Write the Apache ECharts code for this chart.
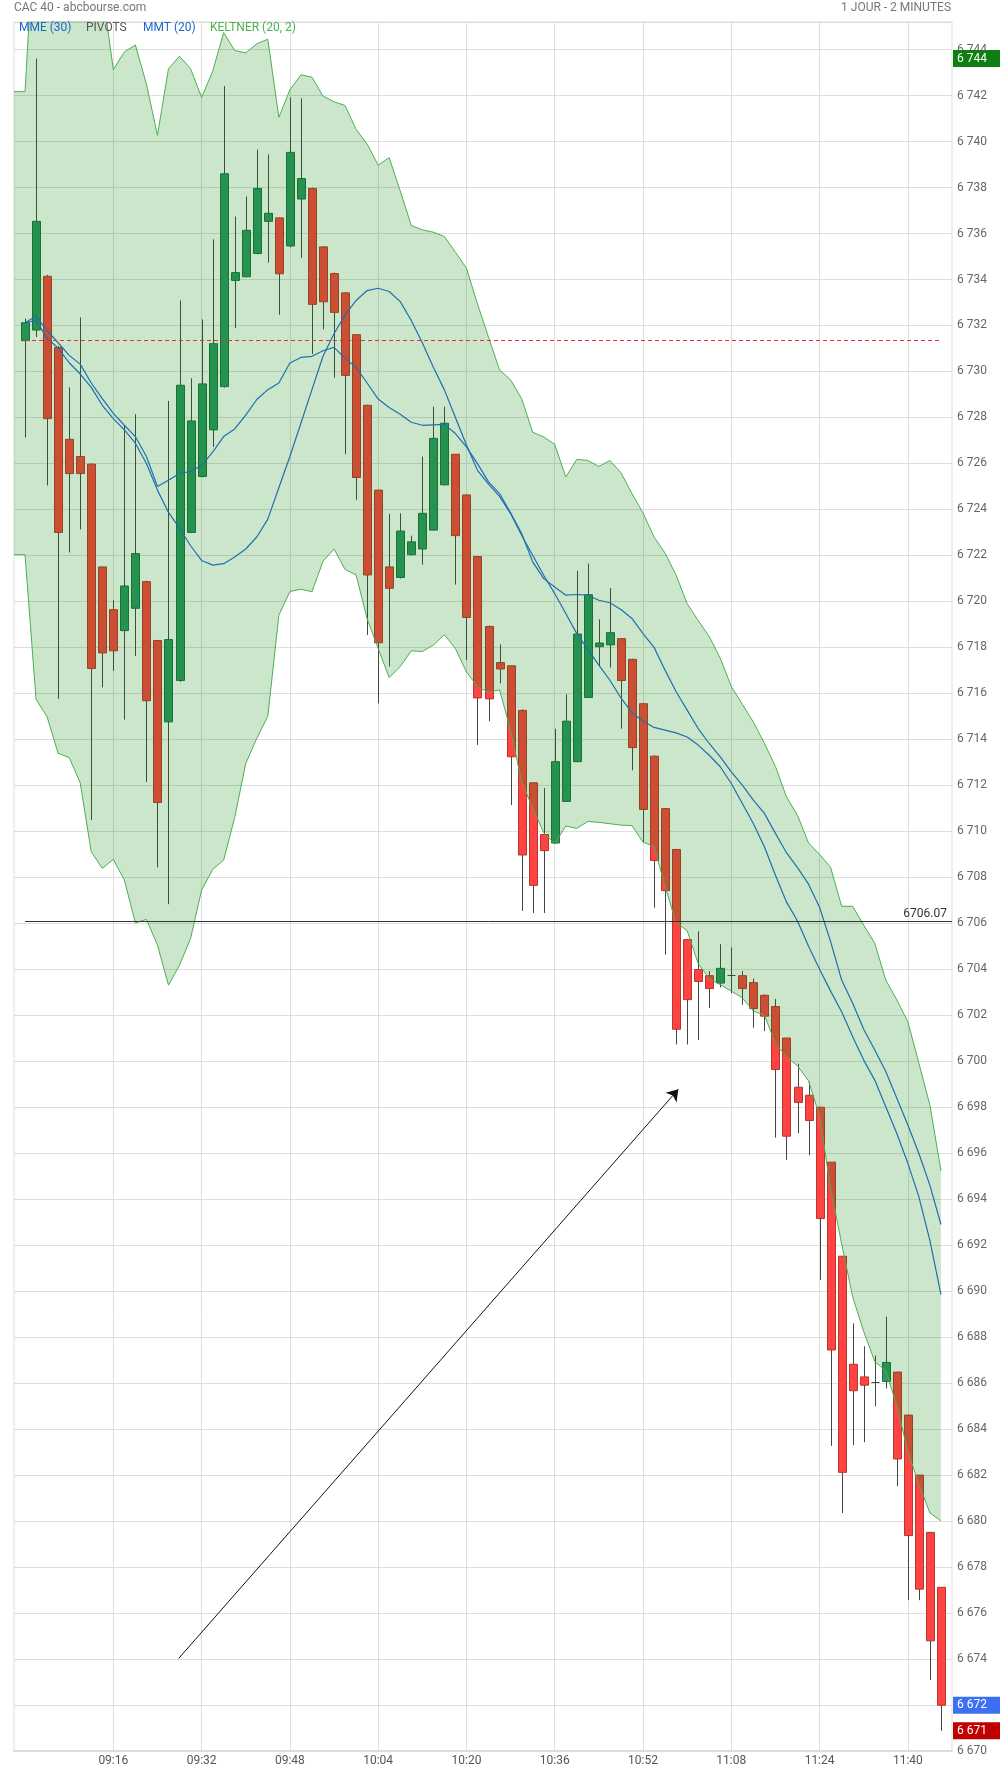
<!DOCTYPE html>
<html><head><meta charset="utf-8">
<script src="https://cdn.jsdelivr.net/npm/echarts@6/dist/echarts.min.js"></script>
<style>html,body{margin:0;padding:0;background:#fff}#c{width:1000px;height:1774px}</style>
</head><body><div id="c"></div>
<script>
// categories: one padding slot on each side, candles 09:00 .. 11:46
const CATS = ['08:58',
'09:00','09:02','09:04','09:06','09:08','09:10','09:12','09:14','09:16','09:18','09:20','09:22','09:24','09:26','09:28','09:30','09:32','09:34','09:36','09:38','09:40','09:42','09:44','09:46','09:48','09:50','09:52','09:54','09:56','09:58',
'10:00','10:02','10:04','10:06','10:08','10:10','10:12','10:14','10:16','10:18','10:20','10:22','10:24','10:26','10:28','10:30','10:32','10:34','10:36','10:38','10:40','10:42','10:44','10:46','10:48','10:50','10:52','10:54','10:56','10:58',
'11:00','11:02','11:04','11:06','11:08','11:10','11:12','11:14','11:16','11:18','11:20','11:22','11:24','11:26','11:28','11:30','11:32','11:34','11:36','11:38','11:40','11:42','11:44','11:46',
'11:48'];

const OPEN = [
6731.34,6731.8,6734.14,6731.04,6727.05,6726.3,6725.97,6721.5,6719.64,6718.73,
6719.7,6720.86,6718.3,6714.76,6716.56,6723.0,6725.43,6727.46,6729.34,6733.96,
6734.12,6735.13,6736.53,6736.68,6735.46,6737.5,6737.96,6735.42,6734.26,6733.42,
6731.6,6728.53,6724.84,6721.5,6721.04,6722.03,6722.28,6723.1,6725.07,6726.4,
6724.63,6721.95,6718.91,6717.34,6717.2,6715.26,6712.11,6709.86,6709.49,6711.3,
6713.03,6715.82,6718.03,6718.11,6718.38,6717.48,6715.55,6713.27,6710.99,6709.21,
6705.29,6703.99,6703.72,6703.4,6703.74,6703.72,6703.42,6702.87,6702.38,6701.01,
6698.87,6698.52,6698.0,6695.61,6691.52,6686.82,6686.27,6686.07,6686.07,6686.48,
6684.61,6682.0,6679.51,6677.12];
const CLOSE = [
6732.12,6736.53,6727.95,6723.0,6725.56,6725.56,6717.08,6717.76,6717.85,6720.67,
6722.08,6715.68,6711.25,6718.34,6729.4,6727.85,6729.46,6731.21,6738.6,6734.3,
6736.14,6737.96,6736.88,6734.25,6739.53,6738.39,6732.92,6733.03,6732.57,6729.83,
6725.39,6721.15,6718.2,6720.57,6723.06,6722.59,6723.83,6727.09,6727.75,6722.86,
6719.3,6715.8,6715.76,6717.06,6713.24,6708.97,6707.65,6709.16,6713.03,6714.79,
6718.58,6720.29,6718.19,6718.64,6716.56,6713.64,6710.95,6708.73,6707.42,6701.39,
6702.68,6703.47,6703.16,6704.04,6703.74,6703.16,6702.29,6701.96,6699.64,6696.74,
6698.21,6697.42,6693.16,6687.44,6682.12,6685.67,6685.91,6686.07,6686.9,6682.7,
6679.37,6677.04,6674.79,6671.99];
const LOW = [
6727.13,6731.5,6725.04,6715.76,6722.13,6723.13,6710.49,6716.26,6716.98,6714.86,
6717.63,6712.15,6708.43,6706.83,6716.5,6723.0,6725.4,6726.72,6729.3,6731.89,
6734.1,6735.1,6734.74,6732.47,6735.4,6734.94,6730.76,6731.83,6729.73,6726.4,
6724.42,6718.54,6715.56,6717.17,6721.0,6722.0,6721.6,6723.1,6725.05,6720.73,
6717.45,6713.76,6714.79,6716.44,6711.14,6706.54,6706.45,6706.45,6709.45,6711.3,
6713.0,6715.8,6717.16,6717.12,6714.46,6712.65,6709.52,6706.68,6704.64,6700.73,
6700.73,6700.93,6702.32,6703.21,6702.96,6702.46,6701.46,6701.31,6696.68,6695.71,
6696.86,6695.91,6690.49,6683.27,6680.35,6683.3,6683.43,6684.99,6685.77,6681.52,
6676.56,6676.56,6673.09,6670.88];
const HIGH = [
6732.3,6743.61,6734.2,6731.1,6729.31,6732.35,6726.0,6721.5,6720.05,6727.66,
6728.14,6720.9,6718.3,6728.72,6733.09,6729.7,6732.26,6735.75,6742.41,6736.74,
6737.61,6739.65,6739.44,6736.7,6741.92,6741.88,6738.0,6735.45,6734.3,6733.45,
6731.6,6728.55,6724.85,6723.81,6723.83,6722.86,6726.3,6728.47,6728.47,6726.4,
6724.65,6721.95,6718.95,6718.13,6717.2,6715.3,6712.11,6711.88,6714.46,6715.96,
6721.33,6721.64,6719.22,6720.58,6718.4,6717.5,6715.55,6713.3,6711.0,6709.21,
6705.3,6705.65,6703.92,6705.09,6704.95,6703.92,6703.59,6702.9,6702.71,6701.01,
6699.89,6699.11,6698.0,6695.61,6691.52,6688.6,6687.6,6687.2,6688.89,6686.5,
6684.61,6682.0,6679.51,6677.12];

// Keltner (20, 2) bands
const KELT_UP = [
6742.17,6750.6,6750.2,6749.5,6748.8,6748.2,6747.5,6746.6,6743.13,6743.9,
6744.2,6742.5,6740.27,6743.17,6743.71,6743.17,6741.92,6743.05,6744.74,6743.96,
6743.86,6744.25,6744.45,6741.05,6742.25,6742.9,6742.8,6741.98,6741.73,6741.57,
6740.53,6739.89,6738.97,6739.3,6737.85,6736.35,6736.16,6736.06,6735.87,6735.19,
6734.49,6732.94,6731.49,6730.07,6729.64,6728.82,6727.36,6727.15,6726.83,6725.41,
6726.18,6726.13,6725.87,6726.13,6725.6,6724.69,6723.85,6722.8,6722.1,6721.14,
6719.9,6719.17,6718.47,6717.53,6716.3,6715.53,6714.75,6713.83,6712.82,6711.5,
6710.7,6709.49,6709.0,6708.43,6706.74,6706.74,6705.92,6705.13,6703.53,6702.67,
6701.72,6699.91,6698.09,6695.24];
const KELT_LOW = [
6722.03,6715.74,6714.98,6713.39,6713.21,6712.11,6709.11,6708.39,6708.78,6707.88,
6706.02,6706.17,6705.05,6703.31,6704.18,6705.34,6707.44,6708.34,6708.75,6710.6,
6712.95,6714.04,6715.0,6719.4,6720.43,6720.53,6720.42,6721.74,6722.28,6721.39,
6721.15,6719.25,6717.95,6716.69,6717.17,6717.85,6717.82,6718.1,6718.55,6717.95,
6716.93,6716.29,6716.05,6716.15,6714.4,6712.17,6711.01,6709.94,6709.46,6710.23,
6710.13,6710.43,6710.39,6710.33,6710.27,6710.25,6709.53,6709.35,6707.6,6706.03,
6705.68,6704.25,6703.6,6703.33,6703.05,6702.76,6702.18,6702.01,6700.76,6700.2,
6699.8,6699.15,6697.6,6694.47,6692.06,6689.75,6688.24,6686.94,6686.54,6685.03,
6683.02,6681.62,6680.35,6680.01];

// moving averages
const MME30 = [
6732.12,6732.41,6731.79,6731.25,6730.7,6730.32,6729.5,6728.82,6728.18,6727.66,
6727.17,6726.3,6725.0,6725.27,6725.56,6725.66,6725.91,6726.49,6727.17,6727.5,
6728.1,6728.78,6729.21,6729.5,6730.37,6730.61,6730.66,6730.9,6731.05,6730.57,
6730.18,6729.5,6728.8,6728.43,6728.14,6727.79,6727.66,6727.68,6727.7,6727.3,
6726.72,6725.99,6725.2,6724.69,6723.85,6722.95,6721.72,6720.99,6720.63,6720.27,
6720.3,6720.27,6720.05,6719.94,6719.65,6719.26,6718.6,6718.0,6717.01,6716.07,
6715.27,6714.47,6713.82,6713.24,6712.59,6712.01,6711.36,6710.78,6709.91,6709.07,
6708.42,6707.7,6706.7,6705.2,6703.53,6702.52,6701.39,6700.49,6699.55,6698.39,
6697.23,6695.99,6694.6,6692.9];
const MMT20 = [
6732.12,6732.22,6731.44,6731.02,6730.38,6729.89,6729.31,6728.53,6727.95,6727.46,
6726.88,6726.0,6724.84,6723.87,6723.19,6722.42,6721.78,6721.58,6721.64,6721.93,
6722.28,6722.8,6723.58,6724.94,6726.3,6727.75,6729.21,6730.66,6731.64,6732.45,
6733.09,6733.52,6733.62,6733.48,6733.04,6732.22,6731.25,6730.18,6729.2,6728.0,
6726.8,6725.7,6725.1,6724.57,6723.82,6722.88,6722.01,6721.14,6720.34,6719.47,
6718.6,6717.91,6717.23,6716.57,6715.8,6715.15,6714.8,6714.52,6714.4,6714.28,
6714.1,6713.75,6713.31,6712.81,6712.08,6711.21,6710.34,6709.33,6708.09,6706.93,
6706.1,6705.0,6704.0,6703.05,6702.15,6701.07,6700.05,6699.18,6698.02,6696.86,
6695.56,6694.1,6692.2,6689.85];

const REF_OPEN = 6731.34;   // red dashed
const PIVOT = 6706.07;      // pivot line
const DAY_HIGH = 6743.61, LAST = 6671.99, DAY_LOW = 6670.88;
const ARROW = [[14.93, 6674.03], [60.2, 6698.78]];   // [slot, value]
const Y_MIN = 6670, Y_MAX = 6745.2, Y_STEP = 2;

const fmt = v => { const d = Math.round(v); return Math.floor(d / 1000) + ' ' + String(d % 1000).padStart(3, '0'); };
const pad = arr => ['-'].concat(arr, ['-']);
const padBand = arr => [arr[0]].concat(arr, ['-']);
const showTick = idx => idx >= 9 && (idx - 1) % 8 === 0;

const candles = OPEN.map((o, i) => [i + 1, o, CLOSE[i], LOW[i], HIGH[i]]);
const bandLow = padBand(KELT_LOW);
const bandDiff = padBand(KELT_UP.map((u, i) => +(u - KELT_LOW[i]).toFixed(2)));

const G = '#2f9763', GB = '#1c7042', R = '#ff4242', RB = '#b8362a', WICK = '#454545';

function renderCandle(params, api) {
  const k = api.value(0), o = api.value(1), c = api.value(2), l = api.value(3), h = api.value(4);
  const pO = api.coord([k, o]), pC = api.coord([k, c]), pL = api.coord([k, l]), pH = api.coord([k, h]);
  const x = Math.round(pO[0]) + 0.5;
  const children = [{ type: 'line', shape: { x1: x, y1: pH[1], x2: x, y2: pL[1] }, style: { stroke: WICK, lineWidth: 1 } }];
  if (o === c) {
    children.push({ type: 'line', shape: { x1: x - 4, y1: Math.round(pO[1]) + 0.5, x2: x + 4, y2: Math.round(pO[1]) + 0.5 }, style: { stroke: WICK, lineWidth: 1 } });
  } else {
    const up = c > o;
    const top = Math.min(pO[1], pC[1]), bot = Math.max(pO[1], pC[1]);
    children.push({ type: 'rect', shape: { x: x - 4, y: top, width: 8, height: Math.max(1, bot - top) },
      style: { fill: up ? G : R, stroke: up ? GB : RB, lineWidth: 1 } });
  }
  return { type: 'group', children };
}

const boxLabel = (v, color) => [
  { coord: ['11:46', v], lineStyle: { color: 'rgba(0,0,0,0)', opacity: 1, width: 1 },
    label: { show: true, opacity: 1, position: 'end', formatter: () => fmt(v), color: '#fff', fontSize: 12, backgroundColor: color,
      padding: [3, 16, 2, 4], lineHeight: 12, distance: 1, align: 'left' } },
  { coord: ['11:48', v] }
];

const chart = echarts.init(document.getElementById('c'), null, { renderer: 'canvas' });
chart.setOption({
  animation: false,
  backgroundColor: '#fff',
  textStyle: { fontFamily: 'Roboto' },
  grid: { left: 14, right: 48, top: 22, bottom: 23, show: true, borderColor: '#dddddd', borderWidth: 1, containLabel: false, outerBoundsMode: 'none' },
  xAxis: [{
    type: 'category', data: CATS, boundaryGap: false,
    axisLine: { show: true, lineStyle: { color: '#dcdcdc', width: 2 } },
    axisTick: { show: false, interval: showTick },
    axisLabel: { interval: showTick, color: '#555', fontSize: 12, margin: 4 },
    splitLine: { show: true, interval: showTick, lineStyle: { color: '#dedede', width: 1 } }
  }, {
    type: 'value', min: 0, max: CATS.length - 1, show: false
  }],
  yAxis: {
    type: 'value', position: 'right', min: Y_MIN, max: Y_MAX, interval: Y_STEP, scale: true,
    axisLine: { show: false }, axisTick: { show: false },
    axisLabel: { color: '#666', fontSize: 12, margin: 5, padding: [0, 0, 5, 0],
      formatter: v => { const d = Math.round(v); if (Math.abs(v - d) > 1e-6 || (d - Y_MIN) % Y_STEP) return ''; return fmt(d); } },
    splitLine: { show: true, lineStyle: { color: '#dedede', width: 1 } }
  },
  graphic: [
    { type: 'text', left: 14, top: 2, style: { text: 'CAC 40 - abcbourse.com', fill: '#777', font: '12px Roboto' } },
    { type: 'text', right: 49, top: 2, style: { text: '1 JOUR - 2 MINUTES', fill: '#777', font: '12px Roboto' } },
    { type: 'text', left: 19, top: 22, z: 100, style: { text: 'MME (30)', fill: '#1f66c9', font: '12px Roboto' } },
    { type: 'text', left: 86, top: 22, z: 100, style: { text: 'PIVOTS', fill: '#555', font: '12px Roboto' } },
    { type: 'text', left: 143, top: 22, z: 100, style: { text: 'MMT (20)', fill: '#1f66c9', font: '12px Roboto' } },
    { type: 'text', left: 210, top: 22, z: 100, style: { text: 'KELTNER (20, 2)', fill: '#4caf50', font: '12px Roboto' } }
  ],
  series: [
    { name: 'CAC 40', type: 'custom', renderItem: renderCandle, data: candles, encode: { x: 0, y: [1, 2, 3, 4] } },
    { name: 'kbase', type: 'line', data: bandLow, stack: 'kelt', symbol: 'none', lineStyle: { opacity: 0 }, silent: true },
    { name: 'kfill', type: 'line', data: bandDiff, stack: 'kelt', symbol: 'none', lineStyle: { opacity: 0 },
      areaStyle: { color: 'rgba(0,128,0,0.2)', opacity: 1 }, silent: true },
    { name: 'KELTNER up', type: 'line', data: padBand(KELT_UP), symbol: 'none', lineStyle: { color: '#4caf50', width: 1 }, silent: true },
    { name: 'KELTNER low', type: 'line', data: padBand(KELT_LOW), symbol: 'none', lineStyle: { color: '#4caf50', width: 1 }, silent: true },
    { name: 'MMT (20)', type: 'line', data: pad(MMT20), symbol: 'none', lineStyle: { color: '#1f6fae', width: 1.2 }, silent: true },
    { name: 'MME (30)', type: 'line', data: pad(MME30), symbol: 'none', lineStyle: { color: '#1f6fae', width: 1.2 }, silent: true,
      markLine: {
        silent: true, symbol: ['none', 'none'], animation: false,
        data: [
          [{ coord: ['09:00', REF_OPEN], lineStyle: { color: '#e53030', type: [4, 3], width: 1 }, label: { show: false } },
           { coord: ['11:46', REF_OPEN] }],
          [{ coord: ['09:00', PIVOT], lineStyle: { color: '#333', type: 'solid', width: 1 },
             label: { show: true, position: 'insideEndTop', formatter: PIVOT.toFixed(2), color: '#333', fontSize: 12, distance: [5, 2] } },
           { coord: ['11:48', PIVOT] }],
          boxLabel(DAY_HIGH, '#0f7f12'),
          boxLabel(LAST, '#3d6ff2'),
          boxLabel(DAY_LOW, '#c00000')
        ]
      } },
    { name: 'arrow', type: 'lines', coordinateSystem: 'cartesian2d', xAxisIndex: 1, yAxisIndex: 0, polyline: false,
      symbol: ['none', 'arrow'], symbolSize: 11, silent: true,
      lineStyle: { color: '#111', width: 1, opacity: 1, curveness: 0 },
      data: [{ coords: ARROW }] }
  ]
});
</script></body></html>
